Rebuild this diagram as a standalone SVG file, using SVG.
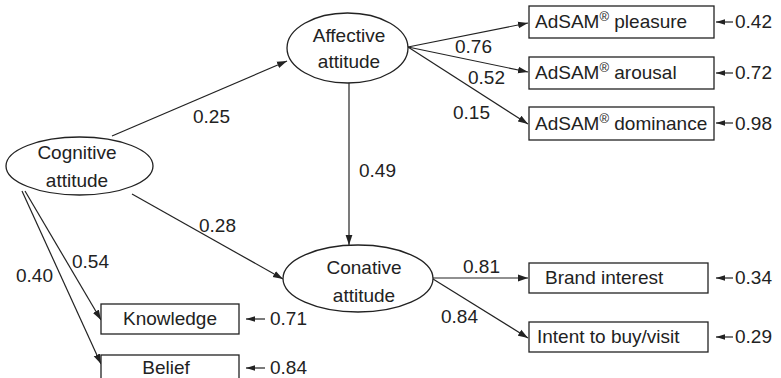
<svg xmlns="http://www.w3.org/2000/svg" width="781" height="378" viewBox="0 0 781 378">
  <style>
    .node ellipse, .node rect { fill: #fff; stroke: #222; stroke-width: 1.3; }
    text { font-family: "Liberation Sans", Arial, sans-serif; font-size: 19px; fill: #222; }
    .c { text-anchor: middle; }
    .edge { stroke: #222; stroke-width: 1.2; fill: none; marker-end: url(#arrow); }
    .err { stroke: #222; stroke-width: 1.2; fill: none; marker-end: url(#arrow-s); }
    .sup { font-size: 13px; }
  </style>
  <defs>
    <marker id="arrow" markerUnits="userSpaceOnUse" markerWidth="10" markerHeight="8" refX="10" refY="4" orient="auto">
      <path d="M0,0.6 L10,4 L0,7.4 z" fill="#222"/>
    </marker>
    <marker id="arrow-s" markerUnits="userSpaceOnUse" markerWidth="9" markerHeight="7" refX="9" refY="3.5" orient="auto">
      <path d="M0,0.8 L9,3.5 L0,6.2 z" fill="#222"/>
    </marker>
  </defs>
  <rect width="781" height="378" fill="#fff"/>

  <!-- connectors -->
  <g id="connectors">
    <line class="edge" x1="112" y1="136" x2="287" y2="61"/>
    <line class="edge" x1="132" y1="194" x2="283" y2="279"/>
    <line class="edge" x1="349" y1="83" x2="349" y2="245"/>
    <line class="edge" x1="25" y1="191" x2="101" y2="320"/>
    <line class="edge" x1="22" y1="191" x2="101" y2="364"/>
    <line class="edge" x1="408" y1="47" x2="528" y2="23"/>
    <line class="edge" x1="408" y1="47" x2="528" y2="72"/>
    <line class="edge" x1="408" y1="47" x2="528" y2="124"/>
    <line class="edge" x1="433" y1="278" x2="528" y2="278"/>
    <line class="edge" x1="433" y1="279" x2="528" y2="338"/>
    <!-- error terms -->
    <line class="err" x1="733" y1="22" x2="716" y2="22"/>
    <line class="err" x1="733" y1="73" x2="716" y2="73"/>
    <line class="err" x1="733" y1="123" x2="716" y2="123"/>
    <line class="err" x1="733" y1="278" x2="716" y2="278"/>
    <line class="err" x1="733" y1="337" x2="716" y2="337"/>
    <line class="err" x1="265" y1="319" x2="246" y2="319"/>
    <line class="err" x1="265" y1="368" x2="246" y2="368"/>
    <!-- path coefficients -->
    <text x="193" y="123">0.25</text>
    <text x="199" y="232">0.28</text>
    <text x="359" y="177">0.49</text>
    <text x="72" y="268">0.54</text>
    <text x="16" y="282">0.40</text>
    <text x="455" y="53">0.76</text>
    <text x="468" y="84">0.52</text>
    <text x="453" y="119">0.15</text>
    <text x="463" y="273">0.81</text>
    <text x="441" y="323">0.84</text>
    <text x="735" y="28">0.42</text>
    <text x="735" y="79">0.72</text>
    <text x="735" y="130">0.98</text>
    <text x="735" y="284">0.34</text>
    <text x="735" y="343">0.29</text>
    <text x="270" y="325">0.71</text>
    <text x="270" y="374">0.84</text>
  </g>

  <g id="cognitive" class="node">
    <ellipse cx="79.5" cy="166" rx="73.5" ry="29"/>
    <text class="c" x="77" y="159">Cognitive</text>
    <text class="c" x="77" y="187">attitude</text>
  </g>
  <g id="affective" class="node">
    <ellipse cx="347.5" cy="48" rx="60.5" ry="35"/>
    <text class="c" x="349" y="42">Affective</text>
    <text class="c" x="349" y="68">attitude</text>
  </g>
  <g id="conative" class="node">
    <ellipse cx="358" cy="278.5" rx="75" ry="33.5"/>
    <text class="c" x="364" y="274">Conative</text>
    <text class="c" x="364" y="302">attitude</text>
  </g>
  <g id="pleasure" class="node">
    <rect x="529" y="6" width="185" height="32"/>
    <text x="535" y="28">AdSAM<tspan class="sup" dy="-7">®</tspan><tspan dy="7"> pleasure</tspan></text>
  </g>
  <g id="arousal" class="node">
    <rect x="529" y="57" width="185" height="32"/>
    <text x="535" y="79">AdSAM<tspan class="sup" dy="-7">®</tspan><tspan dy="7"> arousal</tspan></text>
  </g>
  <g id="dominance" class="node">
    <rect x="529" y="107" width="185" height="33"/>
    <text x="535" y="130">AdSAM<tspan class="sup" dy="-7">®</tspan><tspan dy="7"> dominance</tspan></text>
  </g>
  <g id="brand-interest" class="node">
    <rect x="529" y="263" width="179" height="30"/>
    <text x="545" y="284">Brand interest</text>
  </g>
  <g id="intent" class="node">
    <rect x="529" y="322" width="179" height="30"/>
    <text x="537" y="343">Intent to buy/visit</text>
  </g>
  <g id="knowledge" class="node">
    <rect x="101" y="304" width="138" height="30"/>
    <text class="c" x="170" y="325">Knowledge</text>
  </g>
  <g id="belief" class="node">
    <rect x="101" y="355" width="138" height="30"/>
    <text class="c" x="166" y="374">Belief</text>
  </g>
</svg>
